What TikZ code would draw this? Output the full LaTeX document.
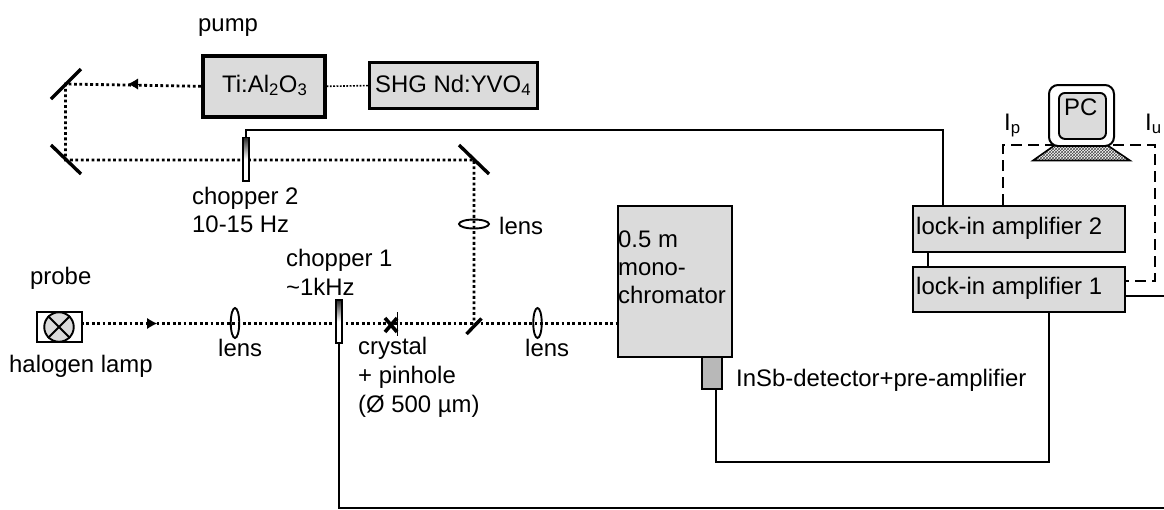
\documentclass[tikz,border=0pt]{standalone}
\usepackage{fontspec}
\setmainfont{Liberation Sans}
\usetikzlibrary{arrows.meta,patterns,shapes.geometric}
\definecolor{boxgray}{gray}{0.86}
\definecolor{detgray}{gray}{0.72}
\tikzset{
  txt/.style={inner sep=0pt,anchor=base west,font=\fontsize{23.9}{27}\selectfont,align=left},
  gbox/.style={draw=black,fill=boxgray,inner sep=0pt,line width=2pt},
  thick box/.style={gbox,line width=3.6pt},
  beam/.style={line width=2.8pt,dash pattern=on 2.8pt off 2.6pt},
  thinbeam/.style={line width=1.6pt,dash pattern=on 1.8pt off 1.5pt},
  wire/.style={line width=2pt,draw=black},
  dashwire/.style={line width=2pt,dash pattern=on 11pt off 6pt},
  mirror/.style={line width=3.4pt},
  lens/.style={draw=black,line width=1.9pt,fill=none},
  chop/.style={draw=black,line width=1.9pt,top color=black!85,bottom color=white,middle color=white},
  tip/.style={-{Latex[length=10pt,width=11pt]}}
}
\begin{document}
\begin{tikzpicture}[x=1pt,y=-1pt]
\useasboundingbox (0,0) rectangle (1164,509);
% boxes
\node[thick box,anchor=north west,minimum width=122pt,minimum height=61pt] (ti) at (201,54) {};
\node[thick box,anchor=north west,minimum width=168pt,minimum height=46pt,line width=3.2pt] (shg) at (368,61) {};
\node[gbox,anchor=north west,minimum width=114pt,minimum height=151pt] (mono) at (617,205) {};
\node[gbox,anchor=north west,minimum width=20pt,minimum height=32pt,fill=detgray] (det) at (701,356) {};
\node[gbox,anchor=north west,minimum width=212pt,minimum height=46pt] (li2) at (912,205) {};
\node[gbox,anchor=north west,minimum width=212pt,minimum height=45pt] (li1) at (912,266) {};
% optical coordinates
\coordinate (m1) at (65.5,84);
\coordinate (m2) at (65.5,160);
\coordinate (m3) at (474,160);
\coordinate (bs) at (474,323.5);
\coordinate (lampr) at (81,323.5);
\coordinate (monol) at (mono.west |- bs);
% beams
\draw[beam] (ti.west) -- (m1) -- (m2) -- (m3) -- (bs);
\draw[beam] (lampr) -- (monol);
\draw[thinbeam] (ti.east) -- (shg.west);
\draw[tip,line width=0pt,draw=black] (139,84) -- (128,84);
\draw[tip,line width=0pt,draw=black] (146,323.5) -- (157,323.5);
% mirrors
\draw[mirror] (51,99) -- (81,69);
\draw[mirror] (51,145) -- (81,174);
\draw[mirror] (459,145) -- (489,174);
\draw[mirror] (466.5,334) -- (481.5,318.5);
% lamp
\node[draw=black,line width=2pt,fill=white,anchor=north west,minimum width=45pt,minimum height=30pt,inner sep=0pt] (lamp) at (35.5,311) {};
\node[circle,draw=black,fill=boxgray,line width=1.9pt,minimum size=29.5pt,inner sep=0pt] (bulb) at (lamp.center) {};
\draw[line width=1.9pt] (bulb.north west) -- (bulb.south east) (bulb.north east) -- (bulb.south west);
% lenses
\node[ellipse,lens,minimum width=8.5pt,minimum height=30pt,inner sep=0pt] (l1) at (235,323) {};
\node[ellipse,lens,minimum width=8.5pt,minimum height=30pt,inner sep=0pt] (l2) at (537.5,323) {};
\node[ellipse,lens,minimum width=30pt,minimum height=9pt,inner sep=0pt] (l3) at (474,224) {};
% choppers
\node[chop,anchor=north,minimum width=5.5pt,minimum height=43.5pt,inner sep=0pt] (c2) at (246,136.5) {};
\node[chop,anchor=north,minimum width=5.5pt,minimum height=43pt,inner sep=0pt] (c1) at (339,299) {};
% crystal
\draw[line width=1.6pt] (397.5,312) -- (397.5,336);
\draw[line width=3.6pt] (385,318) -- (397,332) (385,332) -- (397,318);
% wires
\coordinate (rb1) at (1164,296);
\coordinate (rb2) at (1164,507.5);
\draw[wire] (c2.north) -- (246,129.5) -- (942.7,129.5) -- (942.7,205);
\draw[wire] (927.7,251) -- (927.7,266);
\draw[wire] (1124,296) -- (rb1);
\draw[wire] (716,388) -- (716,462) -- (1048.7,462) -- (1048.7,311);
\draw[wire] (c1.south) -- (339,507.5) -- (rb2);
% PC
\draw[dashwire] (1003,205) -- (1003,145) -- (1155,145) -- (1155,280.7) -- (1124,280.7);
\fill[white] (1055,145) -- (1107,145) -- (1130,160.5) -- (1033,160.5) -- cycle;
\fill[pattern=crosshatch,pattern color=black!70] (1055,145) -- (1107,145) -- (1130,160.5) -- (1033,160.5) -- cycle;
\draw[line width=1.6pt] (1055,145) -- (1033,160.5) -- (1130,160.5) -- (1107,145);
\node[draw=black,line width=2pt,fill=white,rounded corners=9pt,anchor=north west,minimum width=65pt,minimum height=61pt,inner sep=0pt] (mon) at (1048,84) {};
\node[draw=black,fill=boxgray,line width=1.9pt,rounded corners=6pt,anchor=north west,minimum width=47pt,minimum height=46pt,inner sep=0pt] (scr) at (1058,92) {};
% text
\node[txt] (t1) at (198,31) {pump};
\node[txt] at (222,92) {Ti:Al\textsubscript{2}O\textsubscript{3}};
\node[txt] at (375,92) {SHG Nd:YVO\textsubscript{4}};
\node[txt] at (192,204) {chopper 2};
\node[txt] at (192,232) {10-15 Hz};
\node[txt] at (499,234) {lens};
\node[txt] at (286,266) {chopper 1};
\node[txt] at (286,295) {\textasciitilde 1kHz};
\node[txt] at (30,284) {probe};
\node[txt] at (9,372) {halogen lamp};
\node[txt] at (218,356) {lens};
\node[txt] at (525,356) {lens};
\node[txt] at (358,354) {crystal};
\node[txt] at (358,383) {+ pinhole};
\node[txt] at (358,412) {(Ø 500 µm)};
\node[txt] at (618,247) {0.5 m};
\node[txt] at (618,275) {mono-};
\node[txt] at (618,303) {chromator};
\node[txt] at (736,386) {InSb-detector+pre-amplifier};
\node[txt] at (916,234) {lock-in amplifier 2};
\node[txt] at (916,294) {lock-in amplifier 1};
\node[txt] at (1004,130) {I\textsubscript{p}};
\node[txt] at (1145,130) {I\textsubscript{u}};
\node[txt] at (1064,115) {PC};
\end{tikzpicture}
\end{document}
